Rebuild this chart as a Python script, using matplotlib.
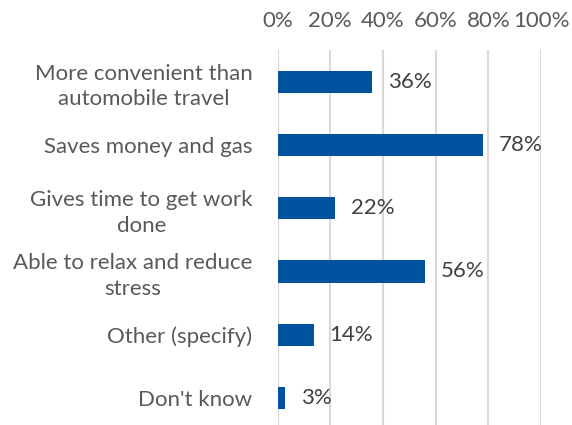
import matplotlib.pyplot as plt
from matplotlib.ticker import PercentFormatter

# ----------------------
# Data
# ----------------------
categories = [
    "More convenient than\nautomobile travel",
    "Saves money and gas",
    "Gives time to get work\ndone",
    "Able to relax and reduce\nstress",
    "Other (specify)",
    "Don't know",
]
shares = [36, 78, 22, 56, 14, 3]
x_ticks = [0, 20, 40, 60, 80, 100]

BAR_COLOR = "#0052A0"
GRID_COLOR = "#D9D9D9"
TEXT_COLOR = "#595959"
LABEL_COLOR = "#404040"

plt.rcParams["font.family"] = ["Lato", "DejaVu Sans"]
FS = 16


def main():
    fig = plt.figure(figsize=(5.72, 4.25), dpi=100)
    ax = fig.add_axes([277.5 / 572, -4.6 / 425, 263.5 / 572, (425 - 50 + 4.6) / 425])

    y = list(range(len(categories)))
    ax.barh(y, shares, height=0.35, color=BAR_COLOR, zorder=3)

    for yi, v in zip(y, shares):
        ax.annotate(f"{v}%", (v, yi), xytext=(11, 0), textcoords="offset points",
                    ha="left", va="center", fontsize=FS, color=LABEL_COLOR)

    ax.set_xlim(0, 100)
    ax.set_ylim(len(categories) - 0.5, -0.5)
    ax.set_xticks(x_ticks)
    ax.xaxis.set_major_formatter(PercentFormatter(decimals=0))
    ax.xaxis.tick_top()
    ax.tick_params(axis="x", length=0, pad=14, labelsize=FS, labelcolor=TEXT_COLOR)
    ax.set_yticks(y)
    ax.set_yticklabels(categories, fontsize=FS, color=TEXT_COLOR,
                       multialignment="center", linespacing=1.35)
    ax.tick_params(axis="y", length=0, pad=18)

    ax.grid(axis="x", color=GRID_COLOR, linewidth=1.5, zorder=0)
    for side in ax.spines.values():
        side.set_visible(False)

    fig.savefig("out.png", dpi=100)
    plt.close(fig)


if __name__ == "__main__":
    main()
